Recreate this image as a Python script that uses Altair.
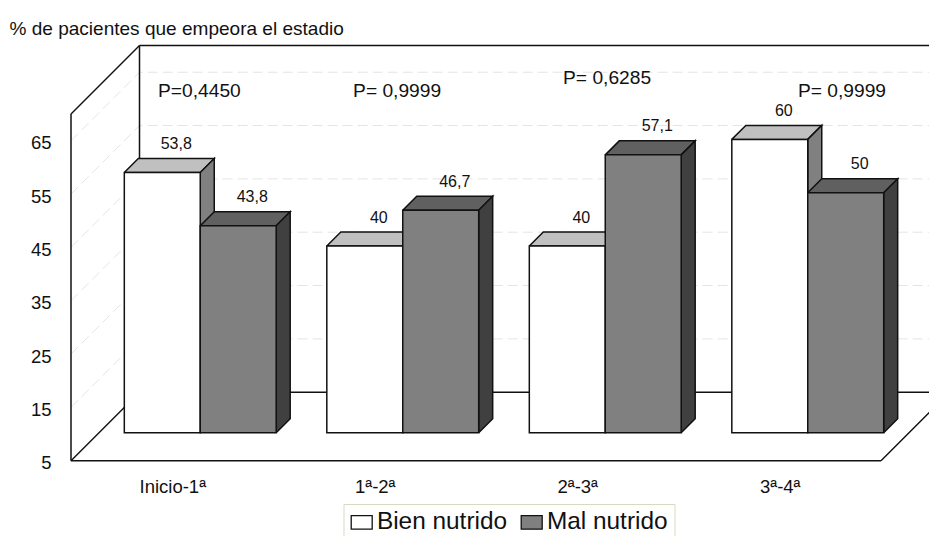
import json
import altair as alt
import pandas as pd

# ---- chart values ----
categories = ["Inicio-1ª", "1ª-2ª", "2ª-3ª", "3ª-4ª"]
bien = [53.8, 40, 40, 60]
mal = [43.8, 46.7, 57.1, 50]
bien_labels = ["53,8", "40", "40", "60"]
mal_labels = ["43,8", "46,7", "57,1", "50"]
series = ["Bien nutrido", "Mal nutrido"]
p_texts = ["P=0,4450", "P= 0,9999", "P= 0,6285", "P= 0,9999"]
p_left = [0.43, 1.393, 2.43, 3.59]      # category units
p_level = [74.5, 74.5, 76.9, 74.5]      # value units
y_ticks = [5, 15, 25, 35, 45, 55, 65]
y_top = 70

# ---- projection of the pseudo-3D box, expressed in scale units ----
PX_PER_CAT = 202.5
PX_PER_UNIT = 5.333
DEPTH_WALL = 68.5
DEPTH_BAR_FRONT = 28
DEPTH_BAR = 14
BAR_W = 0.375
W, H = 921, 528
x_dom = [(8 - 71) / PX_PER_CAT, (8 + W - 71) / PX_PER_CAT]
y_dom = [5 - (536 - 460.7) / PX_PER_UNIT, 5 + (460.7 - 8) / PX_PER_UNIT]
FONT = "Liberation Sans"
INK = "#111111"
n = len(categories)


def proj(u, v, d=0):
    return u + d / PX_PER_CAT, v + d / PX_PER_UNIT


x_s = alt.Scale(domain=x_dom, nice=False, zero=False)
y_s = alt.Scale(domain=y_dom, nice=False, zero=False)

label_expr = json.dumps(categories, ensure_ascii=False) + "[floor(datum.value)]"
x_ax = alt.Axis(
    title=None, values=[0.5 + i for i in range(n)], labelExpr=label_expr,
    domain=False, ticks=False, grid=False, labelFont=FONT, labelFontSize=18.5,
    labelColor=INK, labelPadding=0, offset=-(536 - 8 - 469), orient="bottom",
    labelBaseline="top",
)
y_ax = alt.Axis(
    title="% de pacientes que empeora el estadio", titleFont=FONT, titleFontSize=19.05,
    titleFontWeight="normal", titleColor=INK, titleAngle=0, titleAlign="left",
    titleBaseline="middle", titleX=-42, titleY=20, values=y_ticks, format="d",
    domain=False, ticks=False, grid=False, labelFont=FONT, labelFontSize=18.5,
    labelColor=INK, labelPadding=0, offset=-43, labelOffset=2,
)
X = alt.X("x:Q", scale=x_s, axis=x_ax)
Y = alt.Y("y:Q", scale=y_s, axis=y_ax)


def polys(items):
    rows = []
    for pid, pts in enumerate(items):
        for o, (u, v, d) in enumerate(pts):
            x, y = proj(u, v, d)
            rows.append({"id": pid, "o": o, "x": x, "y": y})
    return pd.DataFrame(rows)


def line_layer(df, **mark):
    return alt.Chart(df).mark_line(**mark).encode(x=X, y=Y, detail="id:N", order="o:Q")


# walls
wall_lines = [
    [(0, 5, 0), (0, y_top, 0)],
    [(0, y_top, 0), (0, y_top, DEPTH_WALL)],
    [(0, 5, 0), (0, 5, DEPTH_WALL)],
    [(0, 5, DEPTH_WALL), (0, y_top, DEPTH_WALL)],
    [(0, y_top, DEPTH_WALL), (n, y_top, DEPTH_WALL)],
    [(0, 5, DEPTH_WALL), (n, 5, DEPTH_WALL)],
    [(0, 5, 0), (n, 5, 0)],
    [(n, 5, 0), (n, 5, DEPTH_WALL)],
]
grid_lines = []
for t in y_ticks[1:]:
    grid_lines.append([(0, t, 0), (0, t, DEPTH_WALL), (n, t, DEPTH_WALL)])

layers = []
layers.append(line_layer(polys(grid_lines), color="#e4e4e4", strokeWidth=1, strokeDash=[10, 5], clip=True))
layers.append(line_layer(polys(wall_lines), color=INK, strokeWidth=1.5, clip=True))


def bar_parts(values, offset):
    tops, sides = [], []
    for i, v in enumerate(values):
        l = i + 0.5 + offset * BAR_W
        r = l + BAR_W
        f, b = DEPTH_BAR_FRONT, DEPTH_BAR_FRONT + DEPTH_BAR
        tops.append([(l, v, f), (r, v, f), (r, v, b), (l, v, b), (l, v, f)])
        sides.append([(r, 5, f), (r, v, f), (r, v, b), (r, 5, b), (r, 5, f)])
    return polys(tops), polys(sides)


front_rows = []
for s_name, vals, off in ((series[0], bien, -1), (series[1], mal, 0)):
    for i, v in enumerate(vals):
        l = i + 0.5 + off * BAR_W
        x0, y0 = proj(l, 5, DEPTH_BAR_FRONT)
        x1, y1 = proj(l + BAR_W, v, DEPTH_BAR_FRONT)
        front_rows.append({"s": s_name, "x": x0, "x2": x1, "y": y0, "y2": y1})
fronts = pd.DataFrame(front_rows)

legend = alt.Legend(
    orient="none", legendX=335.5, legendY=496, direction="horizontal", title=None,
    symbolType="M-1,-0.65H1V0.65H-1Z", symbolSize=440, symbolStrokeColor=INK,
    symbolStrokeWidth=1.3, labelFont=FONT, labelFontSize=24.4, labelColor=INK,
    strokeColor="#d9d9c3", fillColor="white", padding=6, columnPadding=11,
    labelOffset=3, symbolOpacity=1,
)
color_s = alt.Scale(domain=series, range=["#ffffff", "#808080"])


def front_layer(name):
    return alt.Chart(fronts[fronts.s == name]).mark_rect(
        stroke=INK, strokeWidth=1.5, opacity=1
    ).encode(
        x=X, x2="x2:Q", y=Y, y2="y2:Q",
        color=alt.Color("s:N", scale=color_s, legend=legend),
    )


for name, vals, off, ctop, cside in (
    (series[0], bien, -1, "#c0c0c0", "#808080"),
    (series[1], mal, 0, "#606060", "#404040"),
):
    t, s = bar_parts(vals, off)
    layers.append(line_layer(t, color=INK, fill=ctop, strokeWidth=1.5))
    layers.append(line_layer(s, color=INK, fill=cside, strokeWidth=1.5))
    layers.append(front_layer(name))

# data labels
lab_rows = []
for labs, vals, off in ((bien_labels, bien, -1), (mal_labels, mal, 0)):
    for i, (txt, v) in enumerate(zip(labs, vals)):
        u = i + 0.5 + (off + 0.5) * BAR_W
        x, y = proj(u, v, DEPTH_BAR_FRONT + DEPTH_BAR)
        lab_rows.append({"x": x, "y": y, "t": txt})
layers.append(
    alt.Chart(pd.DataFrame(lab_rows)).mark_text(
        font=FONT, fontSize=16, color=INK, baseline="middle", dy=-14.5
    ).encode(x=X, y=Y, text="t:N")
)

# P values
p_df = pd.DataFrame({"x": p_left, "y": p_level, "t": p_texts})
layers.append(
    alt.Chart(p_df).mark_text(
        font=FONT, fontSize=19.2, color=INK, align="left", baseline="middle", dy=1
    ).encode(x=X, y=Y, text="t:N")
)

chart = alt.layer(*layers).resolve_scale(x="shared", y="shared").properties(
    width=W, height=H, padding=0, autosize=alt.AutoSizeParams(type="none"),
    background="white",
).configure_view(stroke=None)

chart.save("out.html", embed_options={"renderer": "svg", "actions": False})
